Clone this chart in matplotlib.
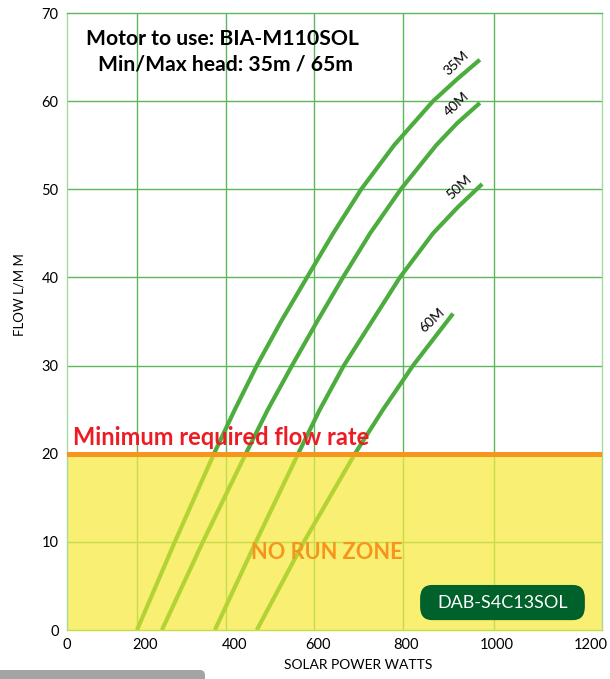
import numpy as np
import matplotlib
matplotlib.use("Agg")
import matplotlib.pyplot as plt
from matplotlib.patches import FancyBboxPatch, Rectangle
from matplotlib.transforms import ScaledTranslation

plt.rcParams['font.family'] = ['Lato', 'DejaVu Sans']

# x ticks of the chart and where the drawn grid puts them (the original grid is uneven)
x_ticks = [0, 200, 400, 600, 800, 1000, 1200]
x_tick_pos = [0.0, 70 / 535, 159 / 535, 247 / 535, 336 / 535, 427 / 535, 1.0]
y_ticks = [0, 10, 20, 30, 40, 50, 60, 70]

# pump curves: solar watts vs flow l/min
head_labels = ["35M", "40M", "50M", "60M"]
watts_35 = [200, 285, 373, 420, 470, 525, 584, 643, 706, 780, 866, 919, 969]
flow_35 = [0, 10, 20, 25, 30, 35, 40, 45, 50, 55, 60, 62.5, 64.7]
watts_40 = [256, 348, 445, 495, 550, 607, 665, 726, 795, 873, 919, 969]
flow_40 = [0, 10, 20, 25, 30, 35, 40, 45, 50, 55, 57.5, 59.8]
watts_50 = [375, 468, 564, 613, 667, 730, 793, 866, 921, 974]
flow_50 = [0, 10, 20, 25, 30, 35, 40, 45, 48, 50.6]
watts_60 = [470, 577, 692, 755, 822, 910]
flow_60 = [0, 10, 20, 25, 30, 35.9]
min_flow = 20

curves = [(watts_35, flow_35), (watts_40, flow_40), (watts_50, flow_50), (watts_60, flow_60)]


def fwd(x):
    return np.interp(x, x_ticks, x_tick_pos)


def inv(p):
    return np.interp(p, x_tick_pos, x_ticks)


GREEN = '#4cad3e'
LIME = '#b3d334'
GRID = '#5cb85a'
GRID_Y = '#c6dc4a'
YELLOW = '#f9ef72'
ORANGE = '#f7941d'

fig = plt.figure(figsize=(6.1, 6.79), dpi=100)
ax = fig.add_axes([67 / 610, 1 - 630 / 679, 535 / 610, 617 / 679])
ax.set_xscale('function', functions=(fwd, inv))
ax.set_xlim(0, 1200)
ax.set_ylim(0, 70)

# no run zone
ax.axhspan(0, min_flow, color=YELLOW, zorder=0, lw=0)

# grid, green above the zone, lime inside it
inner_x = x_ticks[1:-1]
ax.vlines(inner_x, min_flow, 70, color=GRID, lw=1.0, zorder=1)
ax.vlines(inner_x, 0, min_flow, color=GRID_Y, lw=1.0, zorder=1)
ax.hlines([t for t in y_ticks if min_flow < t < 70], 0, 1200, color=GRID, lw=1.0, zorder=1)
ax.hlines([t for t in y_ticks if 0 < t < min_flow], 0, 1200, color=GRID_Y, lw=1.0, zorder=1)

above = Rectangle((0, min_flow), 1200, 70 - min_flow, transform=ax.transData)
below = Rectangle((0, 0), 1200, min_flow, transform=ax.transData)
for w, f in curves:
    l1, = ax.plot(w, f, color=GREEN, lw=3.0, solid_capstyle='butt',
                  solid_joinstyle='round', zorder=3)
    l1.set_clip_path(above)
    l2, = ax.plot(w, f, color=LIME, lw=3.0, solid_capstyle='butt',
                  solid_joinstyle='round', zorder=3)
    l2.set_clip_path(below)

ax.axhline(min_flow, color=ORANGE, lw=3.6, zorder=4)

# head labels at the curve ends
label_pos = [(916, 64.3), (919, 59.7), (923, 50.2), (864, 35.1)]
for name, (lx, ly) in zip(head_labels, label_pos):
    ax.text(lx, ly, name, rotation=43, fontsize=10, ha='center', va='center',
            rotation_mode='anchor', zorder=5)

ax.text(0.29, 0.958, "Motor to use: BIA-M110SOL", transform=ax.transAxes,
        fontsize=15.2, fontweight='bold', ha='center', va='center')
ax.text(0.297, 0.916, "Min/Max head: 35m / 65m", transform=ax.transAxes,
        fontsize=15.2, fontweight='bold', ha='center', va='center')

ax.text(16, 20.5, "Minimum required flow rate", color='#ed1c24', fontsize=17,
        fontweight='bold', ha='left', va='bottom', zorder=5)
ax.text(629, 8.8, "NO RUN ZONE", color=ORANGE, fontsize=15.7, fontweight='bold',
        ha='center', va='center', zorder=5)

box = FancyBboxPatch((0.66, 0.016), 0.308, 0.057, transform=ax.transAxes,
                     boxstyle='round,pad=0,rounding_size=0.022',
                     fc='#00612b', ec='none', zorder=5)
ax.add_patch(box)
ax.text(0.814, 0.044, "DAB-S4C13SOL", transform=ax.transAxes, color='white',
        fontsize=13, ha='center', va='center', zorder=6)

ax.set_xticks(x_ticks)
ax.set_yticks(y_ticks)
ax.tick_params(length=0, labelsize=10.5, pad=6)
# the printed labels sit a little off their grid lines
label_shift = [0, 8, 9, 4, 3, 3, -11]
for lbl, dx in zip(ax.get_xticklabels(), label_shift):
    lbl.set_transform(lbl.get_transform() + ScaledTranslation(dx / 100, 0, fig.dpi_scale_trans))

for s in ['left', 'right']:
    ax.spines[s].set_color('#a6d9a0')
ax.spines['top'].set_color(GRID)
ax.spines['bottom'].set_color(GRID_Y)
for s in ax.spines.values():
    s.set_linewidth(1.0)
    s.set_zorder(2)

fig.text(358 / 610, 1 - 665 / 679, "SOLAR POWER WATTS", fontsize=10,
         ha='center', va='center')
fig.text(20 / 610, 1 - 295 / 679, "FLOW L/M M", fontsize=9.5, rotation=90,
         ha='center', va='center')

bar = FancyBboxPatch((-0.02, -0.02), 205 / 610 + 0.02, 9 / 679 + 0.02,
                     transform=fig.transFigure, boxstyle='round,pad=0,rounding_size=0.008',
                     fc='#a4a4a4', ec='none')
fig.add_artist(bar)

fig.savefig("out.png", dpi=100)
